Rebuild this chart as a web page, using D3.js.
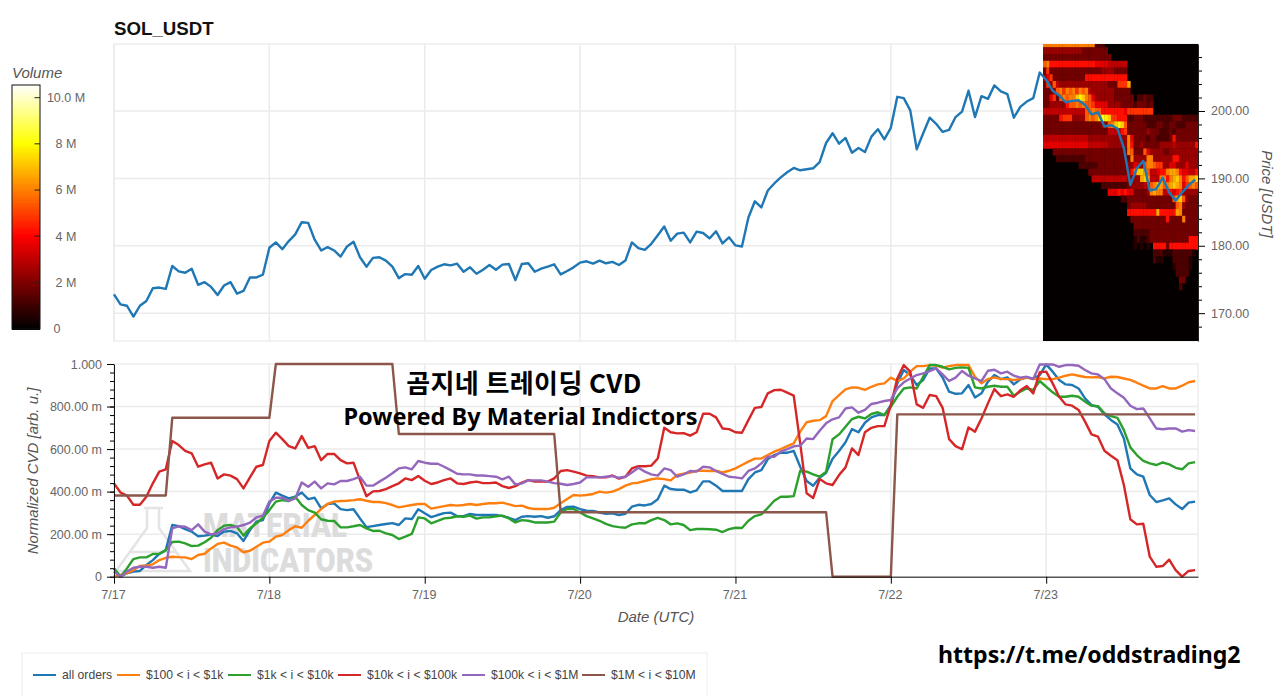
<!DOCTYPE html>
<html>
<head>
<meta charset="utf-8">
<script src="https://cdn.jsdelivr.net/npm/d3@7"></script>
<style>
  body { margin: 0; background: #fff; }
  svg { display: block; font-family: "Liberation Sans", Arial, sans-serif; }
  .tickText text { fill: #666; font-size: 12.5px; }
  .axisTitle { fill: #555; font-style: italic; font-size: 15px; }
  .legendText { fill: #444; font-size: 12.2px; }
</style>
</head>
<body>
<svg id="chart" width="1280" height="696"></svg>
<script>
var dayHours = [0, 24, 48, 72, 96, 120, 144]
var dayLabels = ["7/17", "7/18", "7/19", "7/20", "7/21", "7/22", "7/23"]
var priceMajor = [170, 180, 190, 200]
var volumeTicks = [0, 2, 4, 6, 8, 10]
var volumeLabels = ["0", "2 M", "4 M", "6 M", "8 M", "10.0 M"]
var seriesNames = ["all orders", "$100 < i < $1k", "$1k < i < $10k", "$10k < i < $100k", "$100k < i < $1M", "$1M < i < $10M"]
var seriesColors = ["#1f77b4", "#ff7f0e", "#2ca02c", "#d62728", "#9467bd", "#8c564b"]

// hourly close
var price = [172.8,171.3,171.1,169.5,171.1,171.8,173.7,173.8,173.6,177.0,176.2,176.0,176.6,174.2,174.6,173.9,172.7,174.1,174.6,172.9,173.3,175.3,175.3,175.7,
179.7,180.5,179.5,180.7,181.7,183.5,183.4,180.9,179.3,179.8,179.3,178.4,179.9,180.6,178.3,176.9,178.2,178.3,177.8,176.9,175.2,175.8,175.7,177.0,
175.1,176.4,176.9,177.25,177.1,177.35,176.15,176.8,175.85,176.45,177.15,176.45,177.2,177.3,174.9,177.3,177.4,176.15,176.6,176.9,177.25,175.75,176.25,176.8,
177.5,177.7,177.35,177.8,177.4,177.6,177.15,177.8,180.5,179.65,179.4,180.3,181.55,182.85,180.75,181.8,181.95,180.5,182.1,181.9,181.1,182.15,180.35,181.25,
180.05,179.9,184.2,186.6,185.7,188.2,189.25,190.15,190.9,191.55,191.2,191.35,191.5,192.4,195.25,196.7,195.15,196.0,193.8,194.5,
193.9,196.2,197.3,195.8,197.5,202.1,201.9,200.1,194.3,196.7,199.0,198.1,196.9,197.2,199.1,199.9,203.0,199.1,202.2,201.8,203.8,202.9,202.5,199.0,
200.6,201.4,201.9,205.7,204.6,203.0,202.3,201.3,201.5,201.6,200.9,199.5,199.8,197.7,197.9,197.4,194.5,189.0,191.5,192.6,188.2,188.4,190.1,187.9,186.7,187.9,189.0,189.8]

// normalized CVD, in milli units
var allOrders = [39,0,16,24,27,55,78,107,125,243,238,224,212,190,193,199,191,212,215,204,168,219,259,266,345,395,381,368,376,
396,365,371,321,342,345,318,313,317,274,233,238,243,248,252,243,274,271,317,298,280,290,299,301,285,285,295,290,290,290,290,285,277,266,282,285,282,285,277,284,313,328,329,
318,310,309,302,296,298,290,296,329,338,335,342,364,428,412,409,409,396,406,448,448,428,403,403,403,403,459,490,501,553,572,583,583,591,517,450,428,465,489,555,591,632,694,679,724,749,760,760,
807,909,972,948,901,925,979,979,936,870,860,862,901,843,862,917,948,929,937,904,928,937,932,948,998,964,925,904,901,885,838,807,799,763,737,716,650,509,481,470,384,351,359,368,340,318,348,353]
var orders100 = [0,8,16,31,50,53,58,78,89,94,92,91,83,102,108,133,154,160,146,138,115,122,141,160,165,188,196,219,237,
230,263,290,318,342,353,356,357,360,364,357,351,351,346,337,326,332,337,342,342,320,326,332,337,334,337,342,337,342,345,345,348,340,332,334,323,318,318,318,324,345,365,384,
381,384,389,400,395,400,412,428,439,442,450,458,462,459,453,478,484,490,498,498,497,498,490,498,509,525,541,555,556,572,588,600,614,627,682,726,733,736,755,826,854,881,890,888,878,893,904,909,
936,920,932,964,990,990,995,992,983,990,995,995,995,940,909,929,937,929,929,925,929,936,929,932,929,929,936,945,951,945,939,937,939,932,940,939,932,925,912,898,885,885,896,885,885,898,914,920]
var orders1k = [39,0,39,83,91,91,107,108,125,163,165,157,144,146,162,183,219,240,243,234,193,227,251,277,313,353,360,356,376,
337,313,301,270,263,262,232,232,237,243,227,215,216,204,196,177,188,201,279,274,251,262,274,277,284,282,287,273,279,279,284,287,274,255,266,263,255,255,255,259,302,318,318,
302,285,274,263,248,238,233,230,246,251,251,266,277,266,246,251,243,219,224,224,223,221,210,224,230,229,263,285,293,324,357,376,376,379,498,494,481,470,494,646,669,705,741,752,744,765,773,760,
799,846,885,890,885,940,995,995,987,975,982,984,982,890,885,893,898,893,893,851,870,885,878,920,893,867,846,846,851,846,823,804,802,768,755,747,689,608,572,545,533,525,537,528,512,505,533,539]
var orders10k = [439,396,381,338,338,376,439,494,505,638,619,592,580,517,528,536,462,481,475,459,415,467,517,525,638,677,647,614,603,
661,606,614,548,577,577,548,533,536,454,378,401,403,412,426,439,462,454,473,451,436,443,454,462,439,436,443,447,440,440,443,426,417,426,442,454,447,447,447,462,497,501,494,
486,475,473,467,467,476,461,470,509,520,519,522,556,700,679,674,675,663,679,766,766,749,697,694,679,677,736,794,798,862,877,879,865,851,627,392,370,459,439,431,478,514,603,572,679,700,708,708,
807,932,995,964,810,794,854,849,794,647,614,599,702,682,744,815,882,849,857,846,876,896,862,961,964,909,846,810,804,784,729,669,658,592,569,548,431,270,246,249,94,47,50,80,31,0,27,31]
var orders100k = [24,0,24,42,47,47,42,47,42,227,237,235,219,246,212,199,204,224,232,235,243,254,279,287,353,371,371,356,368,
443,423,447,415,439,434,450,450,459,470,428,428,447,465,486,509,514,505,544,536,531,531,517,501,484,481,481,476,476,473,470,458,470,434,439,453,453,453,447,440,437,431,436,
443,467,467,467,470,473,465,470,490,512,494,481,475,509,501,470,481,497,494,517,514,497,483,470,467,462,497,509,533,564,564,588,600,613,616,650,647,686,721,740,749,791,796,771,784,812,818,826,
831,885,914,932,948,956,967,979,951,920,936,967,945,932,920,968,973,956,964,945,936,940,929,998,998,998,987,995,995,992,972,956,951,929,885,862,841,804,788,791,744,697,693,697,697,682,689,685]
var orders1M = [382,382,382,382,382,382,382,382,382,
747,747,747,747,747,747,747,747,747,747,747,747,747,747,747,747,
1000,1000,1000,1000,1000,1000,1000,1000,1000,1000,1000,1000,1000,1000,1000,1000,1000,1000,1000,
671,671,671,671,671,671,671,671,671,671,671,671,671,671,671,671,671,671,671,671,671,671,671,671,671,
303,303,303,303,303,303,303,303,303,303,303,303,303,303,303,303,303,303,303,303,303,303,303,303,303,303,303,303,303,303,303,303,303,303,303,303,303,303,303,303,303,303,
0,0,0,0,0,0,0,0,0,0,
763,763,763,763,763,763,763,763,763,763,763,763,763,763,763,763,763,763,763,763,763,763,763,763,763,763,763,763,763,763,763,763,763,763,763,763,763,763,763,763,763,763,763,763,763,763,763]
var allSeries = [allOrders, orders100, orders1k, orders10k, orders100k, orders1M]

// volume heatmap for the last day: one row per dollar from the top, half hour columns,
// hex digit = volume in steps of 0.6 M, heatStart = first column that has volume
var heatStart = [0,0,0,0,0,0,0,0,0,0,0,0,0,0,0,0,3,4,11,14,15,18,20,24,26,26,27,28,28,28,28,34,34,40,41,42,42]
var heatRows = [
"aaaaaaaaaaaaaaaa222",
"44444444444433333333",
"333333333333333333333",
"9a777777777777776666555555",
"38333333333333333344443333",
"46833333333337777777777777",
"38495444444444444444333888b",
"33349a8a9a8a9a5444444433333",
"336839a9aacdca96444444333333022322",
"3344444799a9a998666644443333233323",
"5555555555555" + "99a99" + "77777776" + "88888888",
"33333" + "7888" + "4444" + "9a9a" + "cedc" + "88777" + "22333222222" + "22233322222",
"33333333333333333344" + "9acdc9" + "33333322233" + "22332223333",
"33333333333333333333" + "555578" + "3333334333222323333333",
"55555555555555" + "444444444444" + "a6333323322223" + "7" + "3333333",
"66666666666666" + "555555444444" + "a733433333" + "44445444444" + "7",
"33333333333333333333333" + "a9" + "333" + "96" + "444433444444444",
"22222222233333333333333" + "a" + "4444" + "aa" + "44444477444444",
"222222333333333" + "44654" + "9aa9" + "88" + "44664446444",
"3333333333334" + "7accb9" + "55677" + "abba" + "766557",
"55555555555" + "4444" + "bcb" + "555" + "aa" + "7" + "abca" + "7" + "9bbc",
"222222223" + "444455" + "9acb" + "9abcba" + "6" + "89a9",
"66676766" + "33334" + "abaa" + "55767" + "844444",
"2233333333333333" + "9bc9" + "4333",
"344444333333333" + "9a" + "43333",
"777777777" + "b" + "77777" + "ba" + "33333",
"33333333333" + "7" + "3333" + "a" + "3333",
"33333333333333333333",
"22222333333333333333",
"12112333333333333" + "777",
"101010" + "7777" + "3" + "777777777",
"22211" + "12222221",
"211" + "000" + "2222" + "21",
"122221",
"2222",
"33",
"2"]

var svg = d3.select("#chart")

var xHour = d3.scaleLinear().domain([0, 167.45]).range([114, 1198])
var yPrice = d3.scaleLinear().domain([165.87, 209.94]).range([341, 44])
var yCvd = d3.scaleLinear().domain([0, 1000]).range([576.7, 364])
var yVolume = d3.scaleLinear().domain([0, 10.55]).range([328.5, 85])
var heatColor = d3.scaleLinear().domain([0, 4, 8, 10.55]).range(["#000000", "#ff0000", "#ffff00", "#ffffff"])

var gridColor = "#ebebeb"

function frame(y0, y1) {
  svg.append("rect").attr("x", 114).attr("y", y0).attr("width", 1084).attr("height", y1 - y0)
    .attr("fill", "none").attr("stroke", "#eeeeee").attr("stroke-width", 1.5)
}
function grid(hTicks, yScale, y0, y1) {
  svg.append("g").selectAll("line").data(dayHours).enter().append("line")
    .attr("x1", d => xHour(d)).attr("x2", d => xHour(d)).attr("y1", y0).attr("y2", y1)
    .attr("stroke", gridColor).attr("stroke-width", 1.5)
  svg.append("g").selectAll("line").data(hTicks).enter().append("line")
    .attr("x1", 114).attr("x2", 1198).attr("y1", d => yScale(d)).attr("y2", d => yScale(d))
    .attr("stroke", gridColor).attr("stroke-width", 1.5)
}

// top panel
frame(44, 341)
grid(priceMajor, yPrice, 44, 341)

var defs = svg.append("defs")
defs.append("clipPath").attr("id", "topClip").append("rect")
  .attr("x", xHour(143.5)).attr("y", 44).attr("width", xHour(167.45) - xHour(143.5)).attr("height", 297)
defs.append("filter").attr("id", "soft").append("feGaussianBlur").attr("stdDeviation", 0.7)

var heatOuter = svg.append("g").attr("clip-path", "url(#topClip)")
heatOuter.append("rect")
  .attr("x", xHour(143.5)).attr("y", 44).attr("width", xHour(167.45) - xHour(143.5)).attr("height", 297)
  .attr("fill", "#050000")
var heat = heatOuter.append("g").attr("filter", "url(#soft)")
var heatCells = []
heatRows.forEach((row, r) => {
  row.split("").forEach((ch, i) => {
    heatCells.push({ row: r, col: heatStart[r] + i, volume: parseInt(ch, 16) * 0.6 })
  })
})
heat.selectAll("rect.cell").data(heatCells.filter(d => d.volume > 0)).enter().append("rect")
  .attr("class", "cell")
  .attr("x", d => xHour(143.5 + d.col * 0.5))
  .attr("y", d => yPrice(210.45 - d.row))
  .attr("width", xHour(0.5) - xHour(0) + 0.3)
  .attr("height", yPrice(0) - yPrice(1) + 0.3)
  .attr("fill", d => heatColor(d.volume))

var priceLine = d3.line().x((d, i) => xHour(i)).y(d => yPrice(d))
svg.append("path").datum(price).attr("d", priceLine)
  .attr("fill", "none").attr("stroke", "#1f77b4").attr("stroke-width", 2.4).attr("stroke-linejoin", "round")

// right price axis
var priceMinor = svg.append("g").attr("transform", "translate(1198,0)")
  .call(d3.axisRight(yPrice).tickValues(d3.range(168, 210, 2).filter(d => d % 10 != 0)).tickSize(4).tickSizeOuter(0).tickFormat(""))
priceMinor.select(".domain").remove()
var priceAxis = svg.append("g").attr("class", "tickText").attr("transform", "translate(1198,0)")
  .call(d3.axisRight(yPrice).tickValues(priceMajor).tickSize(7).tickSizeOuter(0).tickPadding(6).tickFormat(d3.format(".2f")))
priceAxis.select(".domain").attr("stroke", "#222")

svg.append("text").attr("class", "axisTitle")
  .attr("transform", "translate(1262,194) rotate(90)").attr("text-anchor", "middle").text("Price [USDT]")
svg.append("text").attr("x", 114).attr("y", 35)
  .attr("font-weight", "bold").attr("font-size", 18.7).attr("fill", "#111").text("SOL_USDT")

// colour bar
var barSteps = d3.range(0, 10.55, 0.1)
svg.append("g").attr("shape-rendering", "crispEdges").selectAll("rect").data(barSteps).enter().append("rect")
  .attr("x", 12).attr("width", 28)
  .attr("y", d => yVolume(d + 0.1)).attr("height", yVolume(0) - yVolume(0.1) + 1)
  .attr("fill", d => heatColor(d))
svg.append("rect").attr("x", 12).attr("y", 85).attr("width", 28).attr("height", 244)
  .attr("fill", "none").attr("stroke", "#111").attr("stroke-width", 1)
svg.append("g").selectAll("line").data(volumeTicks.slice(1)).enter().append("line")
  .attr("x1", 34.5).attr("x2", 40).attr("y1", d => yVolume(d)).attr("y2", d => yVolume(d))
  .attr("stroke", "#222")
svg.append("g").selectAll("text").data(volumeTicks).enter().append("text")
  .attr("x", d => d == 0 ? 57 : 66).attr("y", d => yVolume(d)).attr("dy", "0.35em")
  .attr("text-anchor", "middle").attr("font-size", 12.5).attr("fill", "#666")
  .text((d, i) => volumeLabels[i])
svg.append("text").attr("class", "axisTitle").attr("x", 12).attr("y", 78).text("Volume")

// lower panel
frame(364, 576.7)
grid([200, 400, 600, 800], yCvd, 364, 576.7)

// watermark
var wm = svg.append("g")
wm.append("path")
  .attr("d", "M144 508 L163 508 M147 508 L147 528 L116 571 L190 571 L159 528 L159 508 M130 552 L176 552")
  .attr("fill", "none").attr("stroke", "#e4e4e4").attr("stroke-width", 2.5)
wm.append("text").attr("x", 203).attr("y", 537).attr("font-family", "Roboto").attr("font-weight", 900)
  .attr("font-size", 34).attr("fill", "#dcdcdc").attr("textLength", 144).attr("lengthAdjust", "spacingAndGlyphs").text("MATERIAL")
wm.append("text").attr("x", 203).attr("y", 572).attr("font-family", "Roboto").attr("font-weight", 900)
  .attr("font-size", 34).attr("fill", "#dcdcdc").attr("textLength", 170).attr("lengthAdjust", "spacingAndGlyphs").text("INDICATORS")

var cvdLine = d3.line().x((d, i) => xHour(i)).y(d => yCvd(d))
svg.append("g").selectAll("path").data(allSeries).enter().append("path")
  .attr("d", cvdLine).attr("fill", "none")
  .attr("stroke", (d, i) => seriesColors[i]).attr("stroke-width", 2.4).attr("stroke-linejoin", "round")

var cvdMinor = svg.append("g").attr("transform", "translate(114,0)")
  .call(d3.axisLeft(yCvd).tickValues(d3.range(0, 1001, 40)).tickSize(4).tickSizeOuter(0).tickFormat(""))
cvdMinor.select(".domain").remove()
var cvdAxis = svg.append("g").attr("class", "tickText").attr("transform", "translate(114,0)")
  .call(d3.axisLeft(yCvd).tickValues([0, 200, 400, 600, 800, 1000]).tickSize(7).tickSizeOuter(0).tickPadding(5)
    .tickFormat(d => d == 0 ? "0" : d == 1000 ? "1.000" : d.toFixed(2) + " m"))
cvdAxis.select(".domain").attr("stroke", "#111")

var dateAxis = svg.append("g").attr("class", "tickText").attr("transform", "translate(0,576.7)")
  .call(d3.axisBottom(xHour).tickValues(dayHours).tickSize(7).tickSizeOuter(0).tickPadding(6).tickFormat((d, i) => dayLabels[i]))
dateAxis.select(".domain").attr("stroke", "#111")
dateAxis.selectAll("text").attr("dx", -1)

svg.append("text").attr("class", "axisTitle")
  .attr("transform", "translate(38,471) rotate(-90)").attr("text-anchor", "middle").text("Normalized CVD [arb. u.]")
svg.append("text").attr("class", "axisTitle").attr("x", 656).attr("y", 622)
  .attr("text-anchor", "middle").text("Date (UTC)")

// overlay text
svg.append("text").attr("x", 524).attr("y", 393).attr("text-anchor", "middle")
  .attr("font-family", "'Noto Sans CJK KR'").attr("font-weight", "bold").attr("font-size", 26).attr("letter-spacing", 0.4).attr("fill", "#000")
  .text("곰지네 트레이딩 CVD")
svg.append("text").attr("x", 520.5).attr("y", 425).attr("text-anchor", "middle")
  .attr("font-family", "'Noto Sans'").attr("font-weight", "bold").attr("font-size", 23.5).attr("fill", "#000")
  .text("Powered By Material Indictors")
svg.append("text").attr("x", 938).attr("y", 663)
  .attr("font-family", "'Noto Sans'").attr("font-weight", "bold").attr("font-size", 23.1).attr("fill", "#000")
  .text("https://t.me/oddstrading2")

// legend
svg.append("rect").attr("x", 22).attr("y", 653).attr("width", 685).attr("height", 50)
  .attr("fill", "#fff").attr("stroke", "#eeeeee").attr("stroke-width", 1)
var legendLineX = [33, 117, 228, 338, 462, 582]
var legend = svg.append("g").selectAll("g").data(seriesNames).enter().append("g")
  .attr("transform", (d, i) => "translate(" + legendLineX[i] + ",675)")
legend.append("line").attr("x2", 23).attr("stroke", (d, i) => seriesColors[i]).attr("stroke-width", 2)
legend.append("text").attr("class", "legendText").attr("x", 29).attr("dy", "0.35em").text(d => d)
</script>
</body>
</html>
